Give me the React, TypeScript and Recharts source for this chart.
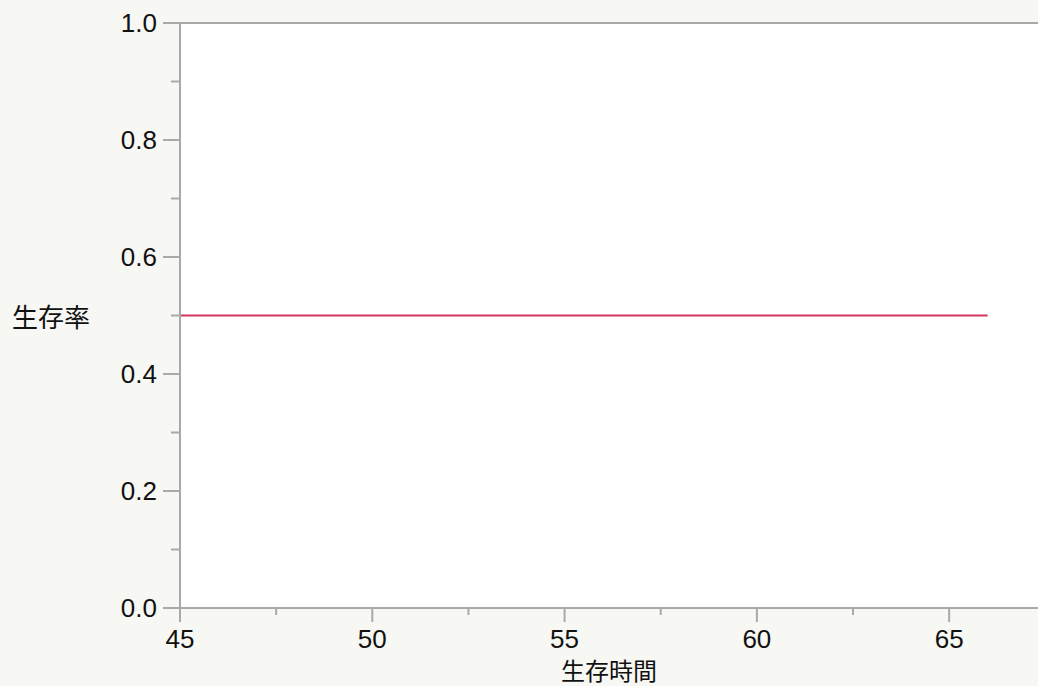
import { LineChart, Line, XAxis, YAxis, CartesianGrid, ReferenceLine } from 'recharts';

// survival curve (one flat segment)
const times = [45, 66];
const survival = [0.5, 0.5];

const xMajorTicks = [45, 50, 55, 60, 65];
const xMinorTicks = [47.5, 52.5, 57.5, 62.5];
const yMajorTicks = [0, 0.2, 0.4, 0.6, 0.8, 1.0];
const yMinorTicks = [0.1, 0.3, 0.5, 0.7, 0.9];

const xLabel = '生存時間';
const yLabel = '生存率';

const AXIS = '#a9a9a9';
const BG = '#f7f7f3';
const NUM_FONT = '"Liberation Sans", Arial, sans-serif';
const CJK_FONT = '"Noto Sans CJK JP", "Noto Sans", sans-serif';

const data = times.map((t, i) => ({ t, s: survival[i] }));
const xTicks = [...xMajorTicks, ...xMinorTicks].sort((a, b) => a - b);
const yTicks = [...yMajorTicks, ...yMinorTicks].sort((a, b) => a - b);

function YTick(props: any) {
  const { x, y, payload } = props;
  const major = yMajorTicks.includes(payload.value);
  const len = major ? 17 : 9;
  return (
    <g>
      <line x1={x - len} x2={x} y1={y} y2={y} stroke={AXIS} strokeWidth={2} />
      {major && (
        <text x={x - len - 6} y={y} textAnchor="end" dominantBaseline="central" fontSize={26} fontFamily={NUM_FONT} fill="#111">
          {payload.value.toFixed(1)}
        </text>
      )}
    </g>
  );
}

function XTick(props: any) {
  const { x, y, payload } = props;
  const major = xMajorTicks.includes(payload.value);
  const len = major ? 14 : 7;
  return (
    <g>
      <line x1={x} x2={x} y1={y} y2={y + len} stroke={AXIS} strokeWidth={2} />
      {major && (
        <text x={x} y={y + 40} textAnchor="middle" fontSize={26} fontFamily={NUM_FONT} fill="#111">
          {payload.value}
        </text>
      )}
    </g>
  );
}

export default function App() {
  return (
    <div style={{ position: 'absolute', left: 0, top: 0, width: 1038, height: 686, background: BG }}>
      <LineChart width={1038} height={686} data={data} margin={{ top: 23, right: 0, bottom: 0, left: 0 }}>
        <CartesianGrid fill="#ffffff" horizontal={false} vertical={false} />
        <XAxis
          dataKey="t"
          type="number"
          domain={[45, 67.31]}
          ticks={xTicks}
          interval={0}
          allowDataOverflow
          height={78}
          tickSize={0}
          tickMargin={0}
          tick={XTick}
          axisLine={{ stroke: AXIS, strokeWidth: 2 }}
          label={(p: any) => {
            const vb = p.viewBox;
            return (
              <text x={vb.x + vb.width / 2} y={vb.y + 61} textAnchor="middle" dominantBaseline="central" fontSize={24} fontFamily={CJK_FONT} fill="#111">
                {xLabel}
              </text>
            );
          }}
        />
        <YAxis
          type="number"
          domain={[0, 1]}
          ticks={yTicks}
          interval={0}
          width={180}
          tickSize={0}
          tickMargin={0}
          tick={YTick}
          axisLine={{ stroke: AXIS, strokeWidth: 2 }}
          label={(p: any) => {
            const vb = p.viewBox;
            return (
              <text x={51} y={vb.y + vb.height / 2} textAnchor="middle" dominantBaseline="central" fontSize={26} fontFamily={CJK_FONT} fill="#111">
                {yLabel}
              </text>
            );
          }}
        />
        <ReferenceLine y={1} stroke={AXIS} strokeWidth={2} />
        <Line type="stepAfter" dataKey="s" stroke="#d2365c" strokeWidth={2} dot={false} isAnimationActive={false} />
      </LineChart>
    </div>
  );
}
